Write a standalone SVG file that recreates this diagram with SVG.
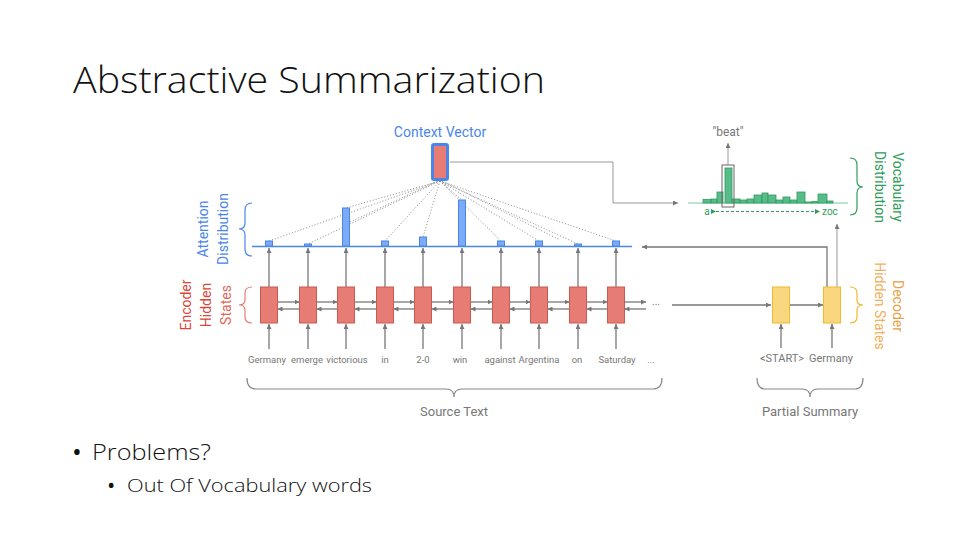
<svg xmlns="http://www.w3.org/2000/svg" width="960" height="540" viewBox="0 0 960 540">
<defs>
<style>
.t{font-family:Roboto,"Liberation Sans",sans-serif}
.enc{fill:#e67c73;stroke:#c95a50;stroke-width:1}
.dec{fill:#f9d77e;stroke:#f0b92e;stroke-width:1}
.att{fill:#7baaf7;stroke:#4a86e8;stroke-width:1}
.voc{fill:#57bb8a;stroke:#2e9d5a;stroke-width:0.8}
.ln{stroke:#777;stroke-width:1.3;fill:none}
.lt{stroke:#999;stroke-width:1;fill:none}
.dot{stroke:#888;stroke-width:1;stroke-dasharray:1 2;fill:none}
.word{font-size:9.5px;fill:#777;text-anchor:middle}
.br{fill:none;stroke-width:1.2}
</style>
<marker id="ah" viewBox="0 0 10 10" refX="10" refY="5" markerWidth="5" markerHeight="5" markerUnits="userSpaceOnUse" orient="auto"><path d="M0,0L10,5L0,10z" fill="#777"/></marker>
<marker id="ahg" viewBox="0 0 10 10" refX="10" refY="5" markerWidth="5" markerHeight="5" markerUnits="userSpaceOnUse" orient="auto"><path d="M0,0L10,5L0,10z" fill="#2e9d5a"/></marker>
</defs>
<rect width="960" height="540" fill="#fff"/>

<g id="title"><text x="73" y="93" font-family="'Open Sans','Liberation Sans',sans-serif" font-weight="300" font-size="36" fill="#111" textLength="472" lengthAdjust="spacingAndGlyphs">Abstractive Summarization</text></g>
<g id="bullets" font-family="'Open Sans','Liberation Sans',sans-serif" fill="#111" font-weight="300">
<text x="72" y="461" font-size="26" font-weight="400">•</text>
<text x="92" y="460" font-size="22" textLength="119" lengthAdjust="spacingAndGlyphs">Problems?</text>
<text x="107" y="493" font-size="22" font-weight="400">•</text>
<text x="127" y="492" font-size="18" textLength="245" lengthAdjust="spacingAndGlyphs">Out Of Vocabulary words</text>
</g>

<g id="connectors">
<g class="dot">
<line x1="440" y1="181" x2="269" y2="241"/>
<line x1="440" y1="181" x2="308" y2="244"/>
<line x1="440" y1="181" x2="346" y2="208"/>
<line x1="440" y1="181" x2="385" y2="241"/>
<line x1="440" y1="181" x2="423" y2="237"/>
<line x1="440" y1="181" x2="462" y2="200"/>
<line x1="440" y1="181" x2="501" y2="241"/>
<line x1="440" y1="181" x2="539" y2="241"/>
<line x1="440" y1="181" x2="578" y2="244"/>
<line x1="440" y1="181" x2="616" y2="241"/>
<line x1="438" y1="181" x2="350" y2="222"/>
<line x1="442" y1="181" x2="560" y2="240"/>
</g>
<polyline class="lt" points="450,162 613,162 613,203 678,203" marker-end="url(#ah)"/>
<g class="ln">
<line x1="277.5" y1="302" x2="299.5" y2="302" marker-end="url(#ah)"/>
<line x1="299.5" y1="309" x2="277.5" y2="309" marker-end="url(#ah)"/>
<line x1="316.5" y1="302" x2="337.5" y2="302" marker-end="url(#ah)"/>
<line x1="337.5" y1="309" x2="316.5" y2="309" marker-end="url(#ah)"/>
<line x1="354.5" y1="302" x2="376.5" y2="302" marker-end="url(#ah)"/>
<line x1="376.5" y1="309" x2="354.5" y2="309" marker-end="url(#ah)"/>
<line x1="393.5" y1="302" x2="414.5" y2="302" marker-end="url(#ah)"/>
<line x1="414.5" y1="309" x2="393.5" y2="309" marker-end="url(#ah)"/>
<line x1="431.5" y1="302" x2="453.5" y2="302" marker-end="url(#ah)"/>
<line x1="453.5" y1="309" x2="431.5" y2="309" marker-end="url(#ah)"/>
<line x1="470.5" y1="302" x2="492.5" y2="302" marker-end="url(#ah)"/>
<line x1="492.5" y1="309" x2="470.5" y2="309" marker-end="url(#ah)"/>
<line x1="509.5" y1="302" x2="530.5" y2="302" marker-end="url(#ah)"/>
<line x1="530.5" y1="309" x2="509.5" y2="309" marker-end="url(#ah)"/>
<line x1="547.5" y1="302" x2="569.5" y2="302" marker-end="url(#ah)"/>
<line x1="569.5" y1="309" x2="547.5" y2="309" marker-end="url(#ah)"/>
<line x1="586.5" y1="302" x2="607.5" y2="302" marker-end="url(#ah)"/>
<line x1="607.5" y1="309" x2="586.5" y2="309" marker-end="url(#ah)"/>
<line x1="624.5" y1="302" x2="646" y2="302" marker-end="url(#ah)"/>
<line x1="646" y1="309" x2="624.5" y2="309" marker-end="url(#ah)"/>
<line x1="269" y1="349" x2="269" y2="324" marker-end="url(#ah)"/>
<line x1="308" y1="349" x2="308" y2="324" marker-end="url(#ah)"/>
<line x1="346" y1="349" x2="346" y2="324" marker-end="url(#ah)"/>
<line x1="385" y1="349" x2="385" y2="324" marker-end="url(#ah)"/>
<line x1="423" y1="349" x2="423" y2="324" marker-end="url(#ah)"/>
<line x1="462" y1="349" x2="462" y2="324" marker-end="url(#ah)"/>
<line x1="501" y1="349" x2="501" y2="324" marker-end="url(#ah)"/>
<line x1="539" y1="349" x2="539" y2="324" marker-end="url(#ah)"/>
<line x1="578" y1="349" x2="578" y2="324" marker-end="url(#ah)"/>
<line x1="616" y1="349" x2="616" y2="324" marker-end="url(#ah)"/>
<line x1="269" y1="287" x2="269" y2="248" marker-end="url(#ah)"/>
<line x1="308" y1="287" x2="308" y2="248" marker-end="url(#ah)"/>
<line x1="346" y1="287" x2="346" y2="248" marker-end="url(#ah)"/>
<line x1="385" y1="287" x2="385" y2="248" marker-end="url(#ah)"/>
<line x1="423" y1="287" x2="423" y2="248" marker-end="url(#ah)"/>
<line x1="462" y1="287" x2="462" y2="248" marker-end="url(#ah)"/>
<line x1="501" y1="287" x2="501" y2="248" marker-end="url(#ah)"/>
<line x1="539" y1="287" x2="539" y2="248" marker-end="url(#ah)"/>
<line x1="578" y1="287" x2="578" y2="248" marker-end="url(#ah)"/>
<line x1="616" y1="287" x2="616" y2="248" marker-end="url(#ah)"/>
<line x1="672" y1="305" x2="771" y2="305" marker-end="url(#ah)"/>
<line x1="789" y1="305" x2="823" y2="305" marker-end="url(#ah)"/>
<line x1="781" y1="348" x2="781" y2="324" marker-end="url(#ah)"/>
<line x1="832" y1="348" x2="832" y2="324" marker-end="url(#ah)"/>
<polyline points="827,287 827,247 642,247" marker-end="url(#ah)"/>
</g>
<line class="lt" x1="837" y1="287" x2="837" y2="224" marker-end="url(#ah)"/>
<line class="lt" x1="728" y1="165" x2="728" y2="143" marker-end="url(#ah)"/>
</g>

<g id="attention-line"><line x1="252" y1="246.5" x2="632" y2="246.5" stroke="#4a86e8" stroke-width="1.5"/></g>
<g id="attention-bars">
<rect class="att" x="265.5" y="241" width="7" height="5"/>
<rect class="att" x="304.5" y="244" width="7" height="2"/>
<rect class="att" x="342.5" y="208" width="7" height="38"/>
<rect class="att" x="381.5" y="241" width="7" height="5"/>
<rect class="att" x="419.5" y="237" width="7" height="9"/>
<rect class="att" x="458.5" y="200" width="7" height="46"/>
<rect class="att" x="497.5" y="241" width="7" height="5"/>
<rect class="att" x="535.5" y="241" width="7" height="5"/>
<rect class="att" x="574.5" y="244" width="7" height="2"/>
<rect class="att" x="612.5" y="241" width="7" height="5"/>
</g>

<g id="context-vector">
<text class="t" x="440" y="137" font-size="14" fill="#4a86e8" text-anchor="middle">Context Vector</text>
<rect x="432.5" y="144.5" width="15" height="35" rx="1.5" fill="#e67c73" stroke="#4a86e8" stroke-width="3"/>
</g>

<g id="encoder-states">
<rect class="enc" x="260.5" y="287" width="17" height="36"/>
<rect class="enc" x="299.5" y="287" width="17" height="36"/>
<rect class="enc" x="337.5" y="287" width="17" height="36"/>
<rect class="enc" x="376.5" y="287" width="17" height="36"/>
<rect class="enc" x="414.5" y="287" width="17" height="36"/>
<rect class="enc" x="453.5" y="287" width="17" height="36"/>
<rect class="enc" x="492.5" y="287" width="17" height="36"/>
<rect class="enc" x="530.5" y="287" width="17" height="36"/>
<rect class="enc" x="569.5" y="287" width="17" height="36"/>
<rect class="enc" x="607.5" y="287" width="17" height="36"/>
<text class="t" x="656" y="305" font-size="10" fill="#777" text-anchor="middle">...</text>
</g>

<g id="decoder-states">
<rect class="dec" x="772.5" y="287" width="17" height="36"/>
<rect class="dec" x="823.5" y="287" width="17" height="36"/>
</g>

<g id="vocab-distribution">
<line x1="688" y1="203" x2="848" y2="203" stroke="#7cc79f" stroke-width="1"/>
<rect class="voc" x="703" y="199.5" width="8" height="3.5"/>
<rect class="voc" x="711" y="199" width="6" height="4"/>
<rect class="voc" x="717" y="192" width="6" height="11"/>
<rect class="voc" x="725" y="168" width="7" height="35"/>
<rect class="voc" x="732" y="199" width="8" height="4"/>
<rect class="voc" x="740" y="200" width="7" height="3"/>
<rect class="voc" x="747" y="199" width="7" height="4"/>
<rect class="voc" x="754" y="195" width="8" height="8"/>
<rect class="voc" x="762" y="193" width="6" height="10"/>
<rect class="voc" x="768" y="195" width="8" height="8"/>
<rect class="voc" x="776" y="200" width="7" height="3"/>
<rect class="voc" x="783" y="197" width="7" height="6"/>
<rect class="voc" x="790" y="200" width="7" height="3"/>
<rect class="voc" x="797" y="192" width="8" height="11"/>
<rect class="voc" x="805" y="202" width="7" height="1"/>
<rect class="voc" x="812" y="201.5" width="6" height="1.5"/>
<rect class="voc" x="818" y="194" width="9" height="9"/>
<rect class="voc" x="827" y="201" width="6" height="2"/>
<rect x="722" y="165" width="12" height="42" fill="none" stroke="#666" stroke-width="1"/>
<text class="t" x="728" y="136" font-size="12" fill="#777" text-anchor="middle">"beat"</text>
<text class="t" x="707" y="215" font-size="10" fill="#2e9d5a" text-anchor="middle">a</text>
<text class="t" x="822" y="215" font-size="10" fill="#2e9d5a">zoc</text>
<line x1="716" y1="211.5" x2="820" y2="211.5" stroke="#2e9d5a" stroke-width="1" stroke-dasharray="3 2" marker-start="url(#ahg)" marker-end="url(#ahg)"/>
</g>

<g id="source-words" class="t">
<text class="word" x="267" y="363">Germany</text>
<text class="word" x="307" y="363">emerge</text>
<text class="word" x="347" y="363">victorious</text>
<text class="word" x="385" y="363">in</text>
<text class="word" x="423" y="363">2-0</text>
<text class="word" x="460" y="363">win</text>
<text class="word" x="500" y="363">against</text>
<text class="word" x="539" y="363">Argentina</text>
<text class="word" x="577" y="363">on</text>
<text class="word" x="617" y="363">Saturday</text>
<text class="word" x="651" y="363" font-size="11">...</text>
</g>
<g id="summary-words" class="t">
<text x="782" y="362" font-size="11" fill="#777" text-anchor="middle">&lt;START&gt;</text>
<text x="831" y="362" font-size="11" fill="#777" text-anchor="middle">Germany</text>
</g>

<g id="braces">
<path class="br" stroke="#4a86e8" d="M252,203 Q245,203 245,210 L245,223 Q245,229 239,229 Q245,229 245,235 L245,249 Q245,256 252,256"/>
<path class="br" stroke="#e67c73" d="M252,287 Q245,287 245,293 L245,300 Q245,305 239,305 Q245,305 245,310 L245,317 Q245,323 252,323"/>
<path class="br" stroke="#2e9d5a" d="M850,158 Q857,158 857,165 L857,181 Q857,187 863,187 Q857,187 857,193 L857,208 Q857,215 850,215"/>
<path class="br" stroke="#f0b92e" d="M850,287 Q857,287 857,293 L857,300 Q857,305 863,305 Q857,305 857,310 L857,317 Q857,323 850,323"/>
<path class="br" stroke="#888" d="M247,378 Q247,389 256,389 L446,389 Q454,389 454,397 Q454,389 462,389 L653,389 Q662,389 662,378"/>
<path class="br" stroke="#888" d="M757,378 Q757,389 765,389 L802,389 Q810,389 810,397 Q810,389 818,389 L855,389 Q863,389 863,378"/>
</g>

<g id="labels" class="t">
<text transform="translate(208,229) rotate(-90)" font-size="14" fill="#4a86e8" text-anchor="middle">Attention</text>
<text transform="translate(228,229) rotate(-90)" font-size="14" fill="#4a86e8" text-anchor="middle">Distribution</text>
<text transform="translate(191,305) rotate(-90)" font-size="14" fill="#d9473c" text-anchor="middle">Encoder</text>
<text transform="translate(211,305) rotate(-90)" font-size="14" fill="#d9473c" text-anchor="middle">Hidden</text>
<text transform="translate(231,305) rotate(-90)" font-size="14" fill="#e0675c" text-anchor="middle">States</text>
<text transform="translate(893,187) rotate(90)" font-size="14" fill="#2e9d5a" text-anchor="middle">Vocabulary</text>
<text transform="translate(875,187) rotate(90)" font-size="14" fill="#2e9d5a" text-anchor="middle">Distribution</text>
<text transform="translate(893,306) rotate(90)" font-size="14" fill="#e8a048" text-anchor="middle">Decoder</text>
<text transform="translate(875,306) rotate(90)" font-size="14" fill="#f0b060" text-anchor="middle">Hidden States</text>
<text x="454" y="416" font-size="13" fill="#777" text-anchor="middle">Source Text</text>
<text x="810" y="416" font-size="13" fill="#777" text-anchor="middle">Partial Summary</text>
</g>
</svg>
